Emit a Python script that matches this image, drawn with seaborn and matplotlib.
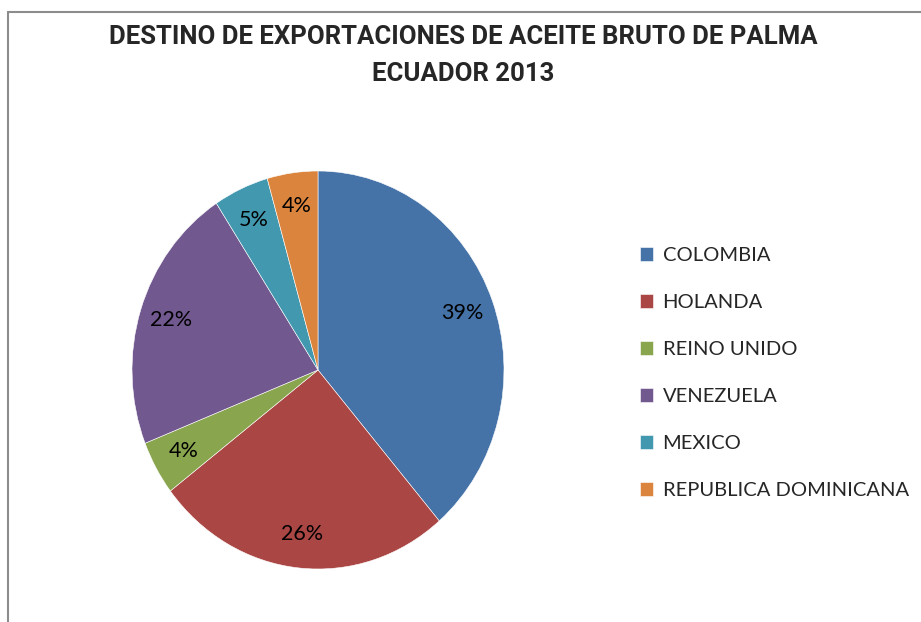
import matplotlib
matplotlib.use("Agg")
import matplotlib.pyplot as plt
from matplotlib import font_manager
from matplotlib.lines import Line2D
import seaborn as sns

countries = ["COLOMBIA", "HOLANDA", "REINO UNIDO", "VENEZUELA", "MEXICO", "REPUBLICA DOMINICANA"]
shares = [38.7, 25.9, 4.4, 21.8, 4.8, 4.4]
colors = ["#4572A7", "#AA4643", "#89A54E", "#71588F", "#4198AF", "#DB843D"]
title_lines = ["DESTINO DE EXPORTACIONES DE ACEITE BRUTO DE PALMA", "ECUADOR 2013"]

sns.set_theme(style="white")
avail = {f.name for f in font_manager.fontManager.ttflist}
title_font = "Liberation Sans Narrow" if "Liberation Sans Narrow" in avail else "Roboto"
body_font = "Lato" if "Lato" in avail else "DejaVu Sans"
plt.rcParams["font.family"] = [body_font, "DejaVu Sans"]

W, H = 921, 622
fig = plt.figure(figsize=(W / 100, H / 100), dpi=100)
fig.patch.set_facecolor("white")

cx, cy, rx, ry = 318, 370, 186, 199
ax = fig.add_axes([(cx - rx) / W, (H - cy - ry) / H, 2 * rx / W, 2 * ry / H])
wedges, texts, autotexts = ax.pie(
    shares, colors=colors, startangle=90, counterclock=False,
    autopct="%1.0f%%", pctdistance=0.83,
    wedgeprops=dict(edgecolor="white", linewidth=0.4),
    textprops=dict(fontsize=15.5, color="black"),
)
ax.set_aspect("auto")
ax.set_xlim(-1, 1)
ax.set_ylim(-1, 1)
ax.axis("off")

fig.text(463 / W, 1 - 37 / H, title_lines[0], ha="center", va="center",
         fontsize=18.5, fontweight="bold", family=title_font)
fig.text(463 / W, 1 - 74 / H, title_lines[1], ha="center", va="center",
         fontsize=18.5, fontweight="bold", family=title_font)

leg = fig.legend(wedges, countries, loc="upper left", bbox_to_anchor=(640 / W, 1 - 247 / H),
                 frameon=False, fontsize=14.5, handlelength=0.67, handleheight=0.67,
                 handletextpad=0.45, labelspacing=1.49, borderaxespad=0, borderpad=0)

fig.add_artist(Line2D([8 / W, 8 / W], [0, 1 - 12 / H], color="#8c8c8c", linewidth=1.5,
                      transform=fig.transFigure))
fig.add_artist(Line2D([8 / W, 1], [1 - 12 / H, 1 - 12 / H], color="#8c8c8c", linewidth=1.5,
                      transform=fig.transFigure))

fig.savefig("out.png", dpi=100)
